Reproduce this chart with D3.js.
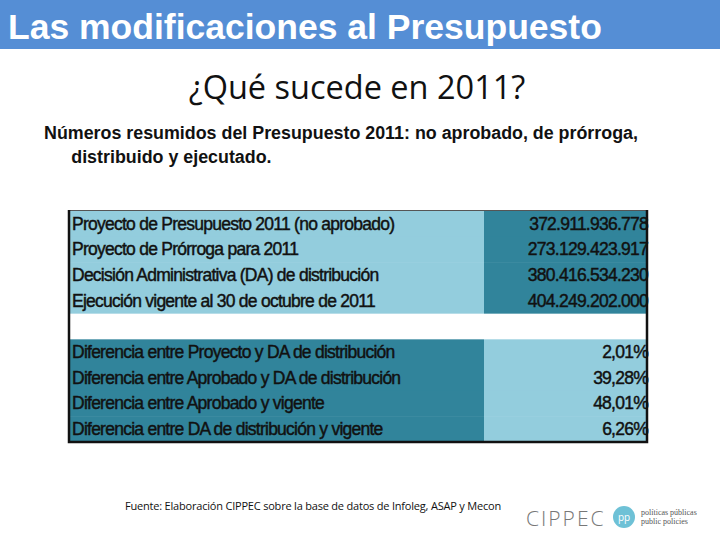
<!DOCTYPE html>
<html>
<head>
<meta charset="utf-8">
<script src="https://cdn.jsdelivr.net/npm/d3@7"></script>
<style>
  html, body { margin: 0; padding: 0; background: #fff; }
  #slide { width: 720px; height: 540px; }
</style>
</head>
<body>
<div id="slide"></div>
<script>
// top block: amounts
const montoLabels = [
    "Proyecto de Presupuesto 2011 (no aprobado)",
    "Proyecto de Prórroga para 2011",
    "Decisión Administrativa (DA) de distribución",
    "Ejecución vigente al 30 de octubre de 2011"
];
const montoValues = ["372.911.936.778", "273.129.423.917", "380.416.534.230", "404.249.202.000"];

// bottom block: differences
const difLabels = [
    "Diferencia entre Proyecto y DA de distribución",
    "Diferencia entre Aprobado y DA de distribución",
    "Diferencia entre Aprobado y vigente",
    "Diferencia entre DA de distribución y vigente"
];
const difValues = ["2,01%", "39,28%", "48,01%", "6,26%"];

const width = 720, height = 540;
const light = "#93cddd", dark = "#31849b";
const sans = "'Liberation Sans', Arial, sans-serif";

const svg = d3.select('#slide')
    .append('svg')
    .attr('width', width)
    .attr('height', height);

// header bar
svg.append('rect')
    .attr('x', 0).attr('y', 0)
    .attr('width', width).attr('height', 49)
    .attr('fill', '#558ed5');
svg.append('text')
    .attr('x', 8).attr('y', 39)
    .attr('fill', '#fff')
    .attr('font-family', sans)
    .attr('font-weight', 'bold')
    .attr('font-size', 35.5)
    .text('Las modificaciones al Presupuesto');

svg.append('text')
    .attr('x', 357).attr('y', 99)
    .attr('text-anchor', 'middle')
    .attr('font-family', "'Open Sans', 'Noto Sans', sans-serif")
    .attr('font-size', 32.5)
    .attr('fill', '#111')
    .text('¿Qué sucede en 2011?');

// intro, a bit condensed like the narrow face in the original
const intro = svg.append('text')
    .attr('transform', 'translate(44,0) scale(0.94,1)')
    .attr('font-family', sans)
    .attr('font-weight', 'bold')
    .attr('font-size', 19)
    .attr('fill', '#111');
intro.append('tspan').attr('x', 0).attr('y', 139)
    .text('Números resumidos del Presupuesto 2011: no aprobado, de prórroga,');
intro.append('tspan').attr('x', 29).attr('y', 163)
    .text('distribuido y ejecutado.');

// table rows: 4 amounts, a blank row, 4 differences
const rows = [
    ...montoLabels.map((d, i) => ({label: d, value: montoValues[i], block: 'monto'})),
    {label: '', value: '', block: 'blank'},
    ...difLabels.map((d, i) => ({label: d, value: difValues[i], block: 'dif'}))
];

const left = 69, mid = 484, right = 647;
const y = d3.scaleBand()
    .domain(d3.range(rows.length))
    .range([211, 442])
    .paddingInner(0);

const labelFill = {monto: light, blank: '#fff', dif: dark};
const valueFill = {monto: dark, blank: '#fff', dif: light};

const g = svg.append('g');
const row = g.selectAll('g.row')
    .data(rows)
    .join('g')
    .attr('class', 'row')
    .attr('transform', (d, i) => `translate(0,${y(i)})`);

row.append('rect')
    .attr('x', left).attr('width', mid - left)
    .attr('height', y.bandwidth() + 0.5)
    .attr('fill', d => labelFill[d.block]);
row.append('rect')
    .attr('x', mid).attr('width', right - mid)
    .attr('height', y.bandwidth() + 0.5)
    .attr('fill', d => valueFill[d.block]);

function cellText(sel) {
    sel.attr('y', y.bandwidth() / 2 + 6)
        .attr('font-family', sans)
        .attr('font-size', 17.5)
        .attr('letter-spacing', -0.75)
        .attr('fill', '#111')
        .attr('stroke', '#111')
        .attr('stroke-width', 0.45);
}
row.append('text')
    .attr('x', left + 3)
    .call(cellText)
    .text(d => d.label);
row.append('text')
    .attr('x', right + 1)
    .attr('text-anchor', 'end')
    .call(cellText)
    .text(d => d.value);

// frame: thin top, heavy sides and bottom
svg.append('line')
    .attr('x1', left).attr('x2', right)
    .attr('y1', 210.5).attr('y2', 210.5)
    .attr('stroke', '#555').attr('stroke-width', 1);
svg.append('path')
    .attr('d', `M${left},${210} V${442} H${right} V${210}`)
    .attr('fill', 'none')
    .attr('stroke', '#111')
    .attr('stroke-width', 2.5);

// footer
svg.append('text')
    .attr('x', 125).attr('y', 510)
    .attr('font-family', "'Open Sans', 'Noto Sans', sans-serif")
    .attr('font-size', 11)
    .attr('letter-spacing', -0.2)
    .attr('fill', '#111')
    .text('Fuente: Elaboración CIPPEC sobre la base de datos de Infoleg, ASAP y Mecon');

svg.append('text')
    .attr('x', 526).attr('y', 526)
    .attr('font-family', "'Open Sans', 'Noto Sans', sans-serif")
    .attr('font-weight', 300)
    .attr('font-size', 21)
    .attr('letter-spacing', 2)
    .attr('fill', '#777')
    .text('CIPPEC');
svg.append('circle')
    .attr('cx', 624).attr('cy', 517).attr('r', 11)
    .attr('fill', '#6ec1d6');
svg.append('text')
    .attr('x', 624).attr('y', 521)
    .attr('text-anchor', 'middle')
    .attr('font-family', "'Open Sans', sans-serif")
    .attr('font-size', 10)
    .attr('fill', '#fff')
    .text('pp');
const logoTxt = svg.append('text')
    .attr('font-family', "'Liberation Serif', serif")
    .attr('font-size', 8)
    .attr('fill', '#555');
logoTxt.append('tspan').attr('x', 641).attr('y', 515).text('políticas públicas');
logoTxt.append('tspan').attr('x', 641).attr('y', 524).text('public policies');
</script>
</body>
</html>
